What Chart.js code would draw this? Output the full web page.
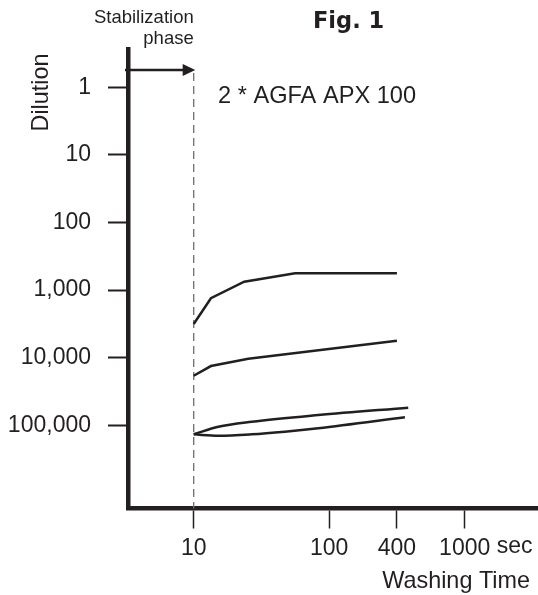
<!DOCTYPE html>
<html>
<head>
<meta charset="utf-8">
<script src="https://cdn.jsdelivr.net/npm/chart.js@4.4.1/dist/chart.umd.min.js"></script>
<style>
  html, body { margin: 0; padding: 0; background: #fff; }
  #wrap { width: 538px; height: 595px; }
</style>
</head>
<body>
<div id="wrap"><canvas id="washChart" width="538" height="595"></canvas></div>
<script>
// curves: x = washing time (sec), y = dilution
const topCurveX = [10, 13.4, 23.6, 56, 316];
const topCurveY = [3170, 1320, 750, 564, 564];
const midCurveX = [10, 13.4, 25.3, 316];
const midCurveY = [18500, 13300, 10400, 5600];
const lowUpperX = [10, 15.2, 26.8, 83, 383];
const lowUpperY = [136000, 105000, 88500, 70400, 54900];
const lowLowerX = [10, 15.2, 26.8, 47, 83, 362];
const lowLowerY = [136000, 142600, 136000, 124400, 110700, 76200];

const yTickValues = [1, 10, 100, 1000, 10000, 100000];
const xTickValues = [10, 100, 316, 1000];
const xTickLabels = ['10', '100', '400', '1000'];

const phaseEnd = 10;      // end of the stabilization phase (sec)
const arrowLevel = 0.555; // dilution level the arrow sits at

const ink = '#231f20';
const sans = '"Liberation Sans", Arial, sans-serif';

document.addEventListener("DOMContentLoaded", function () {
    initWashChart();
});

function toPoints(xs, ys) {
    return xs.map(function (x, i) { return { x: x, y: ys[i] }; });
}

const figureDecor = {
    id: 'figureDecor',
    beforeDatasetsDraw(chart) {
        const ctx = chart.ctx;
        const x = chart.scales.x, y = chart.scales.y;
        const px = x.getPixelForValue(phaseEnd);
        ctx.save();
        ctx.strokeStyle = '#6d6e70';
        ctx.lineWidth = 1.3;
        ctx.setLineDash([8, 5]);
        ctx.beginPath();
        ctx.moveTo(px, y.getPixelForValue(arrowLevel) + 3);
        ctx.lineTo(px, chart.chartArea.bottom);
        ctx.stroke();
        ctx.restore();
    },
    afterDraw(chart) {
        const ctx = chart.ctx;
        const x = chart.scales.x, y = chart.scales.y;
        const px = x.getPixelForValue(phaseEnd);
        const ay = y.getPixelForValue(arrowLevel);
        ctx.save();

        // stabilization arrow
        ctx.strokeStyle = ink;
        ctx.fillStyle = ink;
        ctx.lineWidth = 2.5;
        ctx.beginPath();
        ctx.moveTo(chart.chartArea.left - 3, ay);
        ctx.lineTo(px - 10, ay);
        ctx.stroke();
        ctx.beginPath();
        ctx.moveTo(px + 1.5, ay);
        ctx.lineTo(px - 11, ay - 6);
        ctx.lineTo(px - 11, ay + 6);
        ctx.closePath();
        ctx.fill();

        // texts
        ctx.textBaseline = 'alphabetic';
        ctx.font = '18.5px ' + sans;
        ctx.textAlign = 'right';
        ctx.fillText('Stabilization', px, 22.5);
        ctx.fillText('phase', px, 44);

        ctx.textAlign = 'left';
        ctx.font = 'bold 22.5px "DejaVu Sans", sans-serif';
        ctx.fillText('Fig. 1', 313, 27.5);

        ctx.font = '23.6px ' + sans;
        ctx.fillText('2 * AGFA APX 100', 218, 103);

        ctx.font = '23px ' + sans;
        const p1000 = x.getPixelForValue(1000);
        ctx.fillText('sec', p1000 + ctx.measureText('1000').width / 2 + ctx.measureText(' ').width, 553);

        ctx.font = '23.4px ' + sans;
        ctx.textAlign = 'right';
        ctx.fillText('Washing Time', 530, 588);

        ctx.translate(48.3, 92.5);
        ctx.rotate(-Math.PI / 2);
        ctx.textAlign = 'center';
        ctx.fillText('Dilution', 0, 0);
        ctx.restore();
    }
};

function initWashChart() {
    const curveStyle = { borderColor: ink, borderWidth: 2.5, pointRadius: 0, fill: false };
    const data = {
        datasets: [
            Object.assign({ label: 'top', data: toPoints(topCurveX, topCurveY), tension: 0 }, curveStyle),
            Object.assign({ label: 'mid', data: toPoints(midCurveX, midCurveY), tension: 0 }, curveStyle),
            Object.assign({ label: 'low upper', data: toPoints(lowUpperX, lowUpperY), cubicInterpolationMode: 'monotone' }, curveStyle),
            Object.assign({ label: 'low lower', data: toPoints(lowLowerX, lowLowerY), cubicInterpolationMode: 'monotone' }, curveStyle)
        ]
    };

    const options = {
        responsive: false,
        animation: false,
        layout: { padding: { top: 49, left: 0, right: 0, bottom: 0 } },
        plugins: {
            legend: { display: false },
            tooltip: { enabled: false }
        },
        scales: {
            x: {
                type: 'logarithmic',
                min: 3.274,
                max: 3475,
                border: { display: true, width: 4.5, color: ink },
                grid: { drawOnChartArea: false, drawTicks: true, tickLength: 20, tickWidth: 1.5, tickColor: ink },
                ticks: {
                    font: { family: sans, size: 23 },
                    color: ink,
                    padding: 6,
                    maxRotation: 0,
                    autoSkip: false,
                    callback: function (value, index) { return xTickLabels[index]; }
                },
                afterBuildTicks: function (scale) {
                    scale.ticks = xTickValues.map(function (v) { return { value: v }; });
                },
                afterFit: function (scale) { scale.height = 86.5; }
            },
            y: {
                type: 'logarithmic',
                reverse: true,
                min: 0.2713,
                max: 1702000,
                border: { display: true, width: 4.5, color: ink },
                grid: { drawOnChartArea: false, drawTicks: true, tickLength: 20, tickWidth: 2, tickColor: ink },
                ticks: {
                    font: { family: sans, size: 23 },
                    color: ink,
                    padding: 17,
                    autoSkip: false,
                    callback: function (value) { return Number(value).toLocaleString('en-US'); }
                },
                afterBuildTicks: function (scale) {
                    scale.ticks = yTickValues.map(function (v) { return { value: v }; });
                },
                afterFit: function (scale) { scale.width = 128; }
            }
        }
    };

    const ctx = document.getElementById('washChart').getContext('2d');
    new Chart(ctx, {
        type: 'line',
        data: data,
        options: options,
        plugins: [figureDecor]
    });
}
</script>
</body>
</html>
